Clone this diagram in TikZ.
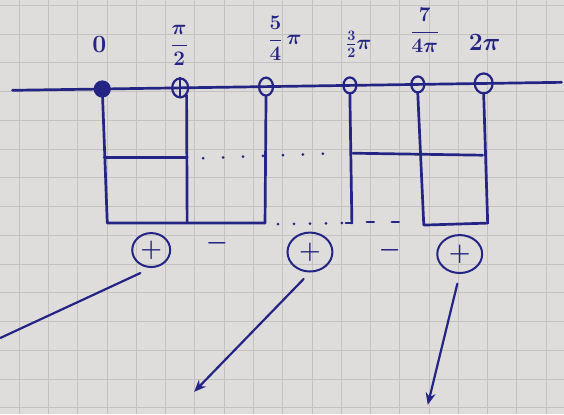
\documentclass[tikz,border=0pt]{standalone}
\usetikzlibrary{arrows.meta,shapes.geometric}
\definecolor{ink}{RGB}{36,36,132}
\definecolor{paper}{RGB}{223,221,219}
\definecolor{gridc}{RGB}{196,193,192}
\begin{document}
\begin{tikzpicture}[x=1pt,y=-1pt,
  inkline/.style={draw=ink,line width=2.7pt,line cap=round,line join=round},
  axpt/.style={ellipse,draw=ink,line width=2.2pt,inner sep=0pt},
  sign/.style={ellipse,draw=ink,line width=2pt,inner sep=0pt,text=ink,font=\fontsize{23}{23}\selectfont\boldmath},
  lbl/.style={text=ink,font=\fontsize{21}{24}\selectfont\boldmath,inner sep=0pt},
  minus/.style={text=ink,font=\fontsize{26}{26}\selectfont\boldmath,inner sep=0pt},
  dotline/.style={draw=ink,line width=3pt,line cap=round,dash pattern=on 0pt off 20pt},
  arr/.style={draw=ink,line width=2.2pt,line cap=round,-{Stealth[length=12pt,width=10pt]}}
]
% paper
\fill[paper] (0,0) rectangle (564,414);
\foreach \gx in {19,48.3,...,562} \draw[gridc,line width=0.9pt] (\gx,0) -- (\gx,414);
\foreach \gy in {4.8,33.6,...,414} \draw[gridc,line width=0.9pt] (0,\gy) -- (564,\gy);
\useasboundingbox (0,0) rectangle (564,414);

% axis
\coordinate (axL) at (12,90);
\coordinate (axR) at (562,82);
\draw[inkline] (axL) -- (axR);

% points on the axis
\node[axpt,fill=ink,minimum width=15pt,minimum height=15pt] (p0) at (102,88.7) {};
\node[axpt,minimum width=16pt,minimum height=19pt] (p1) at (180,87.6) {};
\draw[ink,line width=2.2pt] (p1.north) -- (p1.south);
\node[axpt,minimum width=14pt,minimum height=18pt] (p2) at (266,86.3) {};
\node[axpt,minimum width=13pt,minimum height=16pt] (p3) at (350,85.1) {};
\node[axpt,minimum width=13pt,minimum height=16pt] (p4) at (418,84.1) {};
\node[axpt,minimum width=18pt,minimum height=20pt] (p5) at (484,83.1) {};

% labels
\node[lbl,font=\fontsize{23}{26}\selectfont\boldmath] (l0) at (99,44) {$0$};
\node[lbl] (l1) at (179,45) {$\displaystyle\frac{\pi}{2}$};
\node[lbl] (l2) at (285,38) {$\displaystyle\frac{5}{4}\,\pi$};
\node[lbl,font=\fontsize{22}{24}\selectfont\boldmath] (l3) at (359,44) {$\frac{3}{2}\pi$};
\node[lbl] (l4) at (425,30) {$\displaystyle\frac{7}{4\pi}$};
\node[lbl,font=\fontsize{23}{26}\selectfont\boldmath] (l5) at (485,42) {$2\pi$};

% box corners
\coordinate (bl) at (107,223);
\coordinate (b1) at (187,222);
\coordinate (br1) at (265,223);
\coordinate (ml) at (104,157);
\coordinate (mr) at (187,157);
\coordinate (b3) at (352,223);
\coordinate (rml) at (353,153);
\coordinate (rmr) at (483,155);
\coordinate (b4) at (424,225);
\coordinate (b5) at (488,223);

% left boxes
\draw[inkline] (p0.center) -- (bl) -- (br1);
\draw[inkline] (p1.south east) -- (b1);
\draw[inkline] (p2.south) -- (br1);
\draw[inkline] (ml) -- (mr);
% right boxes
\draw[inkline] (p3.south) -- (b3);
\draw[inkline] (p4.south) -- (b4) -- (b5);
\draw[inkline] (p5.south) -- (b5);
\draw[inkline] (rml) -- (rmr);

% dotted / dashed continuations
\coordinate (d1a) at (203,158);
\coordinate (d1b) at (335,153);
\draw[dotline] (d1a) -- (d1b);
\coordinate (d2a) at (278,224);
\coordinate (d2b) at (342,223);
\draw[dotline,dash pattern=on 0pt off 16pt] (d2a) -- (d2b);
\coordinate (d3a) at (346,223);
\draw[inkline] (d3a) -- (b3);
\coordinate (d4a) at (367,222);
\coordinate (d4b) at (416,222);
\draw[inkline,dash pattern=on 7pt off 18pt] (d4a) -- (d4b);

% signs
\node[sign,minimum width=38pt,minimum height=34pt] (s1) at (151,250) {$+$};
\node[minus] (m1) at (217,243) {$-$};
\node[sign,minimum width=45pt,minimum height=39pt] (s2) at (310,252) {$+$};
\node[minus] (m2) at (390,250) {$-$};
\node[sign,minimum width=45pt,minimum height=38pt] (s3) at (460,254) {$+$};

% arrows
\coordinate (e1) at (0,338);
\coordinate (e2) at (194,392);
\coordinate (e3) at (428,405);
\draw[inkline,line width=2.2pt,shorten <=12pt] (s1.south) -- (e1);
\draw[arr,shorten <=9pt] (s2.south) -- (e2);
\draw[arr,shorten <=10pt] (s3.south) -- (e3);
\end{tikzpicture}
\end{document}
